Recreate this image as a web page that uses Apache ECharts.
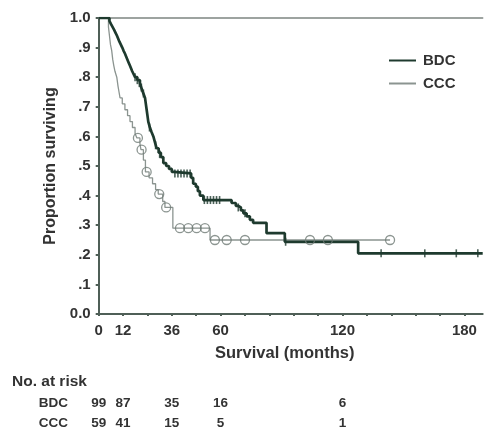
<!DOCTYPE html>
<html>
<head>
<meta charset="utf-8">
<script src="https://cdn.jsdelivr.net/npm/echarts@6/dist/echarts.min.js"></script>
<style>html,body{margin:0;padding:0;background:#fff}#c{width:484px;height:429px}</style>
</head>
<body>
<div id="c"></div>
<script>
// ---- data ----
const bdcMonths = [0,5.3,6.0,6.8,7.6,8.3,9.0,9.6,10.2,10.9,11.6,12.2,12.9,13.5,14.1,14.7,15.3,15.9,16.5,17.2,17.9,19.0,20.3,21.2,22.0,22.8,23.2,23.6,24.0,24.4,25.2,26.0,26.9,27.7,28.5,29.5,30.6,31.8,33.2,34.6,36.0,37.0,45.5,46.5,47.8,48.8,49.8,51.5,65.4,67.5,68.7,70.0,71.2,72.8,74.4,76.0,82.6,91.6,127.7,189];
const bdcSurv   = [1.0,0.99,0.98,0.97,0.96,0.95,0.94,0.93,0.92,0.91,0.90,0.89,0.88,0.87,0.86,0.85,0.84,0.83,0.82,0.81,0.80,0.79,0.78,0.76,0.745,0.73,0.71,0.69,0.67,0.65,0.63,0.615,0.60,0.58,0.56,0.545,0.53,0.51,0.50,0.49,0.48,0.475,0.46,0.44,0.43,0.415,0.40,0.385,0.375,0.365,0.36,0.35,0.34,0.33,0.318,0.308,0.273,0.244,0.205,0.205];
const cccMonths = [0,4.8,5.3,5.8,6.4,6.9,7.4,8.0,8.9,9.5,10.0,10.5,11.6,12.9,14.2,15.4,16.6,17.9,18.8,20.3,20.8,22.0,23.0,24.8,26.5,28.0,29.3,31.5,32.6,36.5,54.8,143.4];
const cccSurv   = [1.0,0.97,0.94,0.91,0.89,0.86,0.84,0.82,0.80,0.77,0.75,0.73,0.71,0.69,0.67,0.65,0.63,0.61,0.595,0.575,0.555,0.52,0.48,0.46,0.44,0.42,0.405,0.38,0.36,0.29,0.25,0.25];
const bdcCensorMonths = [17.9,19.0,20.0,21.0,22.0,25.0,28.0,30.0,37.5,39.0,40.5,42.0,43.5,45.0,52.0,53.5,55.0,56.5,58.0,59.5,68.7,72.0,92.0,139.0,160.5,176.0,186.6];
const bdcCensorSurv   = [0.80,0.79,0.78,0.765,0.745,0.63,0.57,0.54,0.475,0.475,0.475,0.475,0.475,0.475,0.385,0.385,0.385,0.385,0.385,0.385,0.36,0.34,0.244,0.205,0.205,0.205,0.205];
const cccCensorMonths = [19.3,21.1,23.6,29.8,33.2,40.0,44.1,48.2,52.3,57.2,63.0,72.0,104.0,112.8,143.4];
const cccCensorSurv   = [0.595,0.555,0.48,0.405,0.36,0.29,0.29,0.29,0.29,0.25,0.25,0.25,0.25,0.25,0.25];
const xTickLabels = [0,12,36,60,120,180];
const riskMonths = [0,12,36,60,120];
const bdcRisk = [99,87,35,16,6];
const cccRisk = [59,41,15,5,1];
const groups = ['BDC','CCC'];

// ---- chart ----
const FONT = '"Liberation Sans", Arial, sans-serif';
const TXT = '#333';
const AX = '#4f5f57';
const BDC_COL = '#1e3a2e';
const CCC_COL = '#8b9490';
const XMAX = 189;

const pairs = (xs, ys) => xs.map((x, i) => [x, ys[i]]);

const chart = echarts.init(document.getElementById('c'), null, {renderer: 'canvas'});
chart.setOption({
  animation: false,
  backgroundColor: '#fff',
  textStyle: {fontFamily: FONT},
  grid: {left: 98.7, right: 1.3, top: 18, bottom: 115},
  legend: {
    data: ['BDC','CCC'],
    orient: 'vertical',
    left: 383, top: 48,
    padding: 5,
    itemWidth: 27, itemHeight: 14, itemGap: 8,
    itemStyle: {opacity: 0},
    textStyle: {fontFamily: FONT, fontWeight: 'bold', fontSize: 15, color: TXT, padding: [0,0,0,2]}
  },
  xAxis: [
    {
      type: 'value', min: 0, max: XMAX, interval: 12,
      name: 'Survival (months)', nameLocation: 'middle', nameGap: 31,
      nameTextStyle: {fontFamily: FONT, fontWeight: 'bold', fontSize: 16.5, color: TXT, padding: [0, 12, 0, 0]},
      axisLine: {show: true, lineStyle: {color: AX, width: 2}},
      axisTick: {show: true, length: 2, lineStyle: {color: AX, width: 2}},
      splitLine: {show: false},
      axisLabel: {
        margin: 9, fontFamily: FONT, fontWeight: 'bold', fontSize: 15, color: TXT,
        showMaxLabel: false,
        formatter: v => xTickLabels.indexOf(v) >= 0 ? String(v) : ''
      }
    },
    {
      type: 'value', position: 'top', min: 0, max: XMAX,
      axisLine: {show: true, onZero: false, lineStyle: {color: '#7d8581', width: 1.5}},
      axisTick: {show: false}, axisLabel: {show: false}, splitLine: {show: false}
    }
  ],
  yAxis: {
    type: 'value', min: 0, max: 1, interval: 0.1,
    name: 'Proportion surviving', nameLocation: 'middle', nameGap: 39, nameRotate: 90,
    nameTextStyle: {fontFamily: FONT, fontWeight: 'bold', fontSize: 16, color: TXT},
    axisLine: {show: true, lineStyle: {color: AX, width: 2}},
    axisTick: {show: true, length: 3, lineStyle: {color: AX, width: 2}},
    splitLine: {show: false},
    axisLabel: {
      margin: 8, fontFamily: FONT, fontWeight: 'bold', fontSize: 15, color: TXT,
      formatter: v => {
        const t = Math.round(v * 10);
        if (t === 0) return '0.0';
        if (t === 10) return '1.0';
        return '.' + t;
      }
    }
  },
  series: [
    {
      name: 'CCC', type: 'line', step: 'end', xAxisIndex: 0,
      data: pairs(cccMonths, cccSurv), symbol: 'none',
      lineStyle: {color: CCC_COL, width: 1.3}, itemStyle: {color: CCC_COL}, z: 3
    },
    {
      name: 'BDC', type: 'line', step: 'end', xAxisIndex: 0,
      data: pairs(bdcMonths, bdcSurv), symbol: 'none',
      lineStyle: {color: BDC_COL, width: 2.7}, itemStyle: {color: BDC_COL}, z: 4
    },
    {
      name: 'CCC censored', type: 'scatter', xAxisIndex: 0,
      data: pairs(cccCensorMonths, cccCensorSurv),
      symbol: 'circle', symbolSize: 9,
      itemStyle: {color: 'rgba(255,255,255,0)', borderColor: '#6f7a75', borderWidth: 1.3}, z: 5
    },
    {
      name: 'BDC censored', type: 'scatter', xAxisIndex: 0,
      data: pairs(bdcCensorMonths, bdcCensorSurv),
      symbol: 'rect', symbolSize: [1.6, 8],
      itemStyle: {color: BDC_COL}, z: 6
    }
  ]
});

// ---- number-at-risk table, x positions from the chart's own x scale ----
const rowsData = [bdcRisk, cccRisk];
const rowY = [403, 423];
const txt = (size) => ({fontFamily: FONT, fontWeight: 'bold', fontSize: size, fill: TXT});
const elements = [{
  type: 'text', x: 12, y: 382,
  style: Object.assign({text: 'No. at risk', align: 'left', verticalAlign: 'middle'}, txt(15.5))
}];
groups.forEach((g, r) => {
  elements.push({type: 'text', x: 68, y: rowY[r],
    style: Object.assign({text: g, align: 'right', verticalAlign: 'middle'}, txt(13.5))});
  riskMonths.forEach((m, i) => {
    const px = chart.convertToPixel({xAxisIndex: 0}, m);
    elements.push({type: 'text', x: px, y: rowY[r],
      style: Object.assign({text: String(rowsData[r][i]), align: 'center', verticalAlign: 'middle'}, txt(13.5))});
  });
});
chart.setOption({graphic: {elements: elements}});
</script>
</body>
</html>
